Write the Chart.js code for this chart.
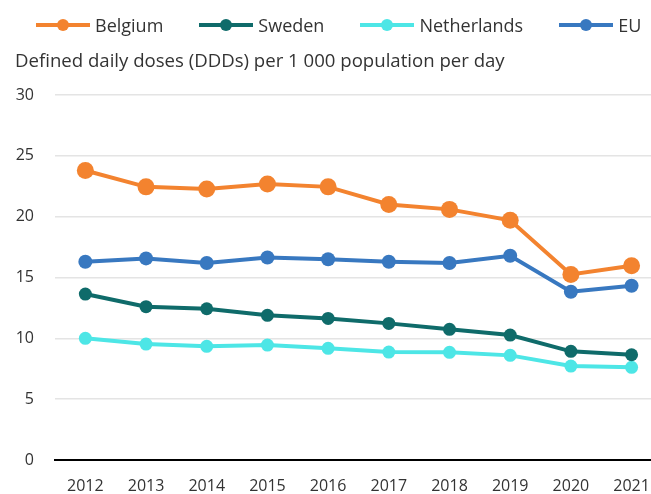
<!DOCTYPE html>
<html>
<head>
<meta charset="utf-8">
<script src="https://cdn.jsdelivr.net/npm/chart.js@4/dist/chart.umd.min.js"></script>
<style>
  html, body { margin: 0; padding: 0; background: #fff; overflow: hidden; width: 651px; height: 494px; position: relative; }
  #chart { position: absolute; left: 0; top: 40px; display: block; }
  #legend {
    position: absolute; left: 0; top: 0; height: 50px; width: 651px; z-index: 2;
    display: flex; align-items: center; padding-left: 36px; box-sizing: border-box;
    font: 18px "Open Sans", sans-serif; color: #333;
  }
  .item { display: flex; align-items: center; margin-right: 36px; white-space: nowrap; }
  .icon { position: relative; width: 54px; height: 4px; margin-right: 5px; }
  .icon::after {
    content: ''; position: absolute; left: 21px; top: -4px;
    width: 12px; height: 12px; border-radius: 50%; background: inherit;
  }
</style>
</head>
<body>
<div id="legend"></div>
<canvas id="chart" width="651" height="454"></canvas>
<script>
const years = [2012, 2013, 2014, 2015, 2016, 2017, 2018, 2019, 2020, 2021]
const belgium = [23.8, 22.45, 22.27, 22.68, 22.45, 21.0, 20.6, 19.7, 15.25, 15.97]
const sweden = [13.64, 12.6, 12.43, 11.89, 11.64, 11.23, 10.74, 10.27, 8.93, 8.65]
const netherlands = [10.0, 9.53, 9.34, 9.45, 9.18, 8.87, 8.85, 8.6, 7.72, 7.62]
const eu = [16.3, 16.57, 16.19, 16.65, 16.5, 16.3, 16.19, 16.79, 13.83, 14.32]
const yTicks = [0, 5, 10, 15, 20, 25, 30]

const FONT = '"Open Sans", sans-serif'
const TEXT = '#333333'

function series(label, values, color, radius) {
  return {
    label,
    data: values.map((v, i) => ({ x: years[i], y: v })),
    borderColor: color,
    backgroundColor: color,
    borderWidth: 4,
    pointRadius: radius,
    pointHoverRadius: radius,
    pointBorderWidth: 0,
    tension: 0,
    clip: false,
  }
}

const datasets = [
  series('Belgium', belgium, '#F3832F', 8.5),
  series('Sweden', sweden, '#0F6B6A', 6.5),
  series('Netherlands', netherlands, '#4DE6E6', 6.5),
  series('EU', eu, '#3878C0', 7),
]

// html legend: line with a dot, then the name
const legend = document.getElementById('legend')
datasets.forEach(d => {
  const item = document.createElement('div')
  item.className = 'item'
  const icon = document.createElement('span')
  icon.className = 'icon'
  icon.style.background = d.borderColor
  const txt = document.createElement('span')
  txt.textContent = d.label
  item.append(icon, txt)
  legend.append(item)
})

new Chart(document.getElementById('chart'), {
  type: 'line',
  data: { datasets },
  options: {
    responsive: false,
    devicePixelRatio: 1,
    animation: false,
    layout: { autoPadding: false, padding: { left: 15, right: 0, top: 0, bottom: 0 } },
    scales: {
      x: {
        type: 'linear',
        min: 2011.5,
        max: 2021.32,
        afterBuildTicks: s => { s.ticks = years.map(v => ({ value: v })) },
        // the last label runs off the edge in the original, so no side padding
        afterFit: s => { s.height = 34; s.paddingLeft = 0; s.paddingRight = 0 },
        ticks: {
          font: { family: FONT, size: 16, lineHeight: 1 },
          color: TEXT,
          padding: 18,
          maxRotation: 0,
          callback: v => String(v),
        },
        grid: { display: false, drawTicks: false },
        border: { display: true, color: '#000', width: 2 },
      },
      y: {
        min: 0,
        max: 30,
        afterBuildTicks: s => { s.ticks = yTicks.map(v => ({ value: v })) },
        afterFit: s => { s.width = 40 },
        ticks: {
          font: { family: FONT, size: 16 },
          color: TEXT,
          padding: 21,
        },
        grid: { color: '#e4e4e4', lineWidth: 1.5, drawTicks: false },
        border: { display: false },
      },
    },
    plugins: {
      legend: { display: false },
      title: {
        display: true,
        text: 'Defined daily doses (DDDs) per 1 000 population per day',
        align: 'start',
        font: { family: FONT, size: 18.6, weight: 'normal', lineHeight: 1.2 },
        color: TEXT,
        padding: { top: 10.5, bottom: 22.2 },
      },
      tooltip: { enabled: false },
    },
  },
})
</script>
</body>
</html>
